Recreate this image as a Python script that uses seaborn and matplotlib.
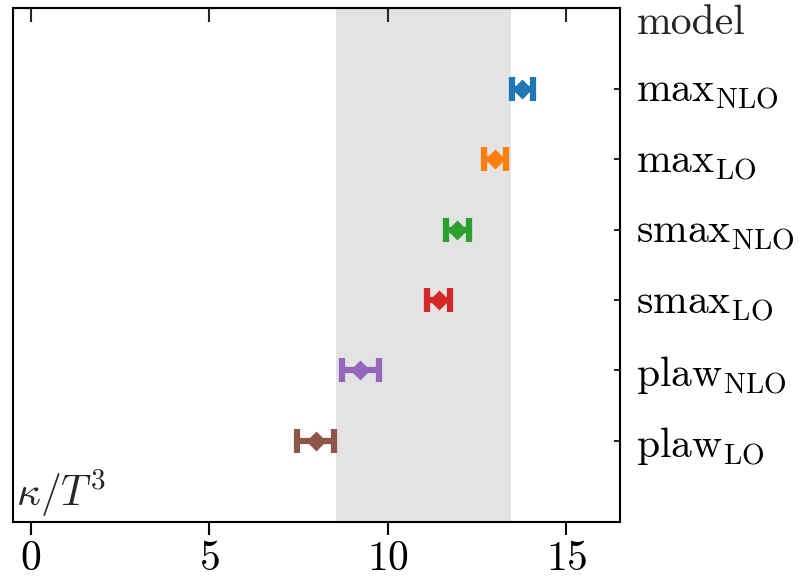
import numpy as np
import pandas as pd
import matplotlib
matplotlib.use("Agg")
import matplotlib.pyplot as plt
import seaborn as sns

# ---- data ----
models = [r"$\mathrm{max}_\mathrm{NLO}$", r"$\mathrm{max}_\mathrm{LO}$",
          r"$\mathrm{smax}_\mathrm{NLO}$", r"$\mathrm{smax}_\mathrm{LO}$",
          r"$\mathrm{plaw}_\mathrm{NLO}$", r"$\mathrm{plaw}_\mathrm{LO}$"]
kappa = [13.77, 13.00, 11.95, 11.42, 9.23, 7.98]
kappa_err = [0.30, 0.31, 0.31, 0.33, 0.52, 0.52]
band_lo, band_hi = 8.55, 13.45
xticks = [0, 5, 10, 15]
colors = ["#1f77b4", "#ff7f0e", "#2ca02c", "#d62728", "#9467bd", "#8c564b"]

# long-format table: the interval ends of each model; mean -> centre, full range -> error bar
rows = []
for m, v, e in zip(models, kappa, kappa_err):
    rows.append({"model": m, "kappa": v - e})
    rows.append({"model": m, "kappa": v + e})
df = pd.DataFrame(rows)

sns.set_style("ticks")
plt.rcParams["font.family"] = ["serif"]
plt.rcParams["font.serif"] = ["cmr10", "DejaVu Serif"]
plt.rcParams["mathtext.fontset"] = "cm"
plt.rcParams["axes.formatter.use_mathtext"] = True
plt.rcParams["axes.unicode_minus"] = False

fig = plt.figure(figsize=(8.05, 5.76), dpi=100)
ax = fig.add_axes([12.7 / 805, 1 - 521.7 / 576, (620 - 12.7) / 805, (521.7 - 8) / 576])

ax.axvspan(band_lo, band_hi, color="#e3e3e3", lw=0, zorder=0)

sns.pointplot(data=df, x="kappa", y="model", hue="model", order=models,
              hue_order=models, palette=colors, estimator="mean",
              errorbar=("pi", 100), markers="D", linestyles="none",
              capsize=0.34, err_kws={"linewidth": 4.5, "solid_capstyle": "butt"},
              markersize=8.5, legend=False, ax=ax, zorder=3)

ax.set_xlim(-0.5, 16.5)
ax.set_ylim(6.15, -1.15)
ax.set_xticks(xticks)
ax.set_xlabel("")
ax.set_ylabel("")

for s in ax.spines.values():
    s.set_linewidth(1.5)
    s.set_color("black")

ax.tick_params(axis="x", direction="out", length=9.5, width=1.5, pad=4.0,
               labelsize=30, colors="black")
ax.yaxis.tick_right()
ax.tick_params(axis="y", direction="in", length=4.5, width=1.2, pad=11.5,
               labelsize=30, left=False, right=True, labelleft=False,
               labelright=True, colors="black")

sec = ax.secondary_xaxis("top")
sec.set_xticks(xticks)
sec.tick_params(direction="in", length=10, width=1.5, labeltop=False)
sec.spines["top"].set_linewidth(1.5)

ax.text(1.0 + 17 / 607, -0.94, "model", transform=ax.get_yaxis_transform(),
        ha="left", va="center", fontsize=30)
ax.text(3 / 607, 0.006, r"$\kappa/T^3$", transform=ax.transAxes,
        ha="left", va="bottom", fontsize=30)

fig.savefig("out.png", dpi=100)
